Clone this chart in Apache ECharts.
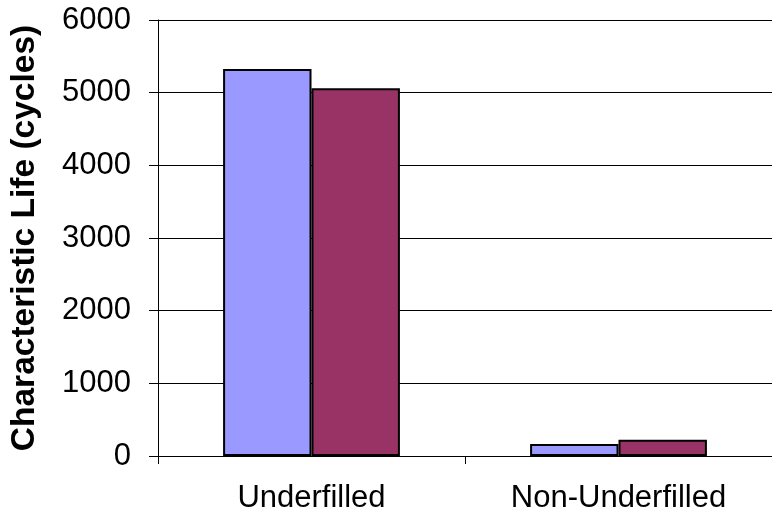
<!DOCTYPE html>
<html>
<head>
<meta charset="utf-8">
<script src="https://cdn.jsdelivr.net/npm/echarts@6/dist/echarts.min.js"></script>
<style>
  html, body { margin: 0; padding: 0; background: #fff; }
  #chart { width: 772px; height: 520px; }
</style>
</head>
<body>
<div id="chart"></div>
<script>
// Characteristic life by assembly type, two sample groups
const categories = ['Underfilled', 'Non-Underfilled'];
const seriesA = [5325, 165];
const seriesB = [5060, 225];
const yTicks = { min: 0, max: 6000, interval: 1000 };
const yTitle = 'Characteristic Life (cycles)';

const chart = echarts.init(document.getElementById('chart'), null, { renderer: 'canvas' });
const font = 'Liberation Sans, Arial, sans-serif';

chart.setOption({
  animation: false,
  backgroundColor: '#ffffff',
  grid: { left: 158, top: 20, width: 618, height: 436, containLabel: false },
  xAxis: {
    type: 'category',
    data: categories,
    axisLine: { lineStyle: { color: '#000', width: 1 } },
    axisTick: { show: true, alignWithLabel: false, length: 8, lineStyle: { color: '#000' } },
    axisLabel: { color: '#000', fontFamily: font, fontSize: 31, margin: 27 },
    splitLine: { show: false }
  },
  yAxis: {
    type: 'value',
    min: yTicks.min,
    max: yTicks.max,
    interval: yTicks.interval,
    name: yTitle,
    nameLocation: 'middle',
    nameGap: 116,
    nameTextStyle: { color: '#000', fontFamily: font, fontSize: 33.5, fontWeight: 'bold' },
    axisLine: { show: true, lineStyle: { color: '#000', width: 1 } },
    axisTick: { show: true, length: 9, lineStyle: { color: '#000' } },
    axisLabel: { color: '#000', fontFamily: font, fontSize: 31, margin: 27, formatter: v => String(v) },
    splitLine: { show: true, lineStyle: { color: '#000', width: 1 } }
  },
  series: [
    {
      type: 'bar',
      data: seriesA,
      barWidth: '28.8%',
      barGap: '0%',
      itemStyle: { color: '#9999FF', borderColor: '#000', borderWidth: 2 }
    },
    {
      type: 'bar',
      data: seriesB,
      barWidth: '28.8%',
      barGap: '0%',
      itemStyle: { color: '#993366', borderColor: '#000', borderWidth: 2 }
    }
  ]
});
</script>
</body>
</html>
